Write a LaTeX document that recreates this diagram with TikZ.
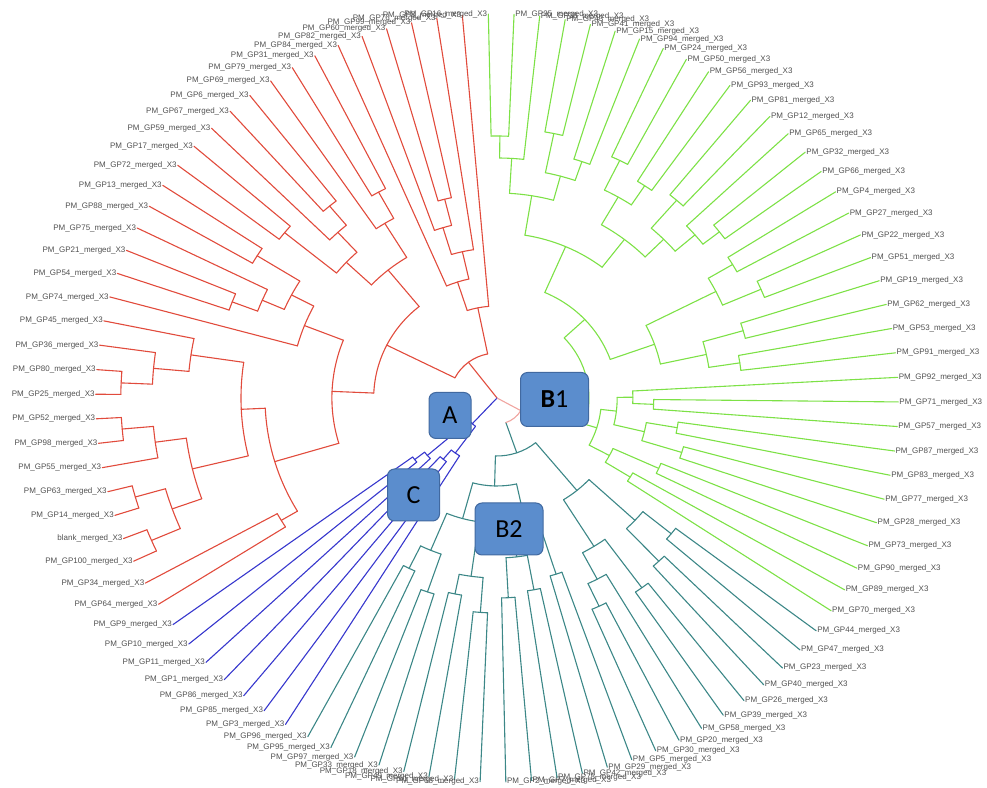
\documentclass[tikz,border=0pt]{standalone}
\usepackage{fontspec}
\setmainfont{Liberation Sans}
\newfontfamily\boxfont{Carlito}
\definecolor{redc}{RGB}{225,75,60}
\definecolor{grnc}{RGB}{125,225,70}
\definecolor{tealc}{RGB}{60,135,135}
\definecolor{bluc}{RGB}{55,55,205}
\definecolor{pinkc}{RGB}{240,165,160}
\definecolor{boxfill}{RGB}{91,141,205}
\definecolor{boxline}{RGB}{65,105,160}
\definecolor{lblgray}{RGB}{80,80,80}
\begin{document}
\begin{tikzpicture}[x=1pt, y=1pt, declare function={ang(\i)=326.4+3.673*\i;}]
	\tikzset{br/.style={line width=1.1pt, line cap=round},
		lbl/.style={font=\fontsize{8}{9}\selectfont, text=lblgray, inner sep=1pt},
		box/.style={draw=boxline, fill=boxfill, line width=1pt, rounded corners=7pt,
			font=\boxfont\fontsize{26}{30}\selectfont, text=black}};

	\useasboundingbox (0,0) rectangle (987,787);

	\begin{scope}[shift={(497,389)}, xscale=1.045]
		% red clade
		\foreach \rr/\p/\q/\rp in {205/37/38/178, 178/37.5/39/150, 150/36/38.25/122, 122/37.125/40/92,
			92/35/38.5625/45, 235/41/42/205, 205/41.5/43/165, 250/44/45/225, 225/44.5/46/198,
			262/47/48/198, 198/45.25/47.5/165, 165/42.25/46.375/118, 270/49/50/222, 271/52/53/245,
			245/51/52.5/222, 222/49.5/51.75/198, 198/50.625/54/158, 360/57/58/330, 330/56/57.5/296,
			296/55/56.75/245, 360/59/60/330, 330/59.5/61/300, 360/62/63/330, 360/64/65/330,
			330/62.5/64.5/300, 300/60.25/63.5/245, 245/55.875/61.875/222, 240/66/67/222,
			222/58.875/66.5/158, 158/52.3125/62.6875/118, 118/44.3125/57.5/45, 45/36.78125/50.90625/0}{
			\pgfmathsetmacro\aa{ang(\p)}
			\pgfmathsetmacro\ab{ang(\q)}
			\pgfmathsetmacro\am{ang((\p+\q)/2)}
			\draw[br, redc] (\aa:\rr) arc[start angle=\aa, end angle=\ab, radius=\rr];
			\draw[br, redc] (\am:\rr) -- (\am:\rp);
		}
		\foreach \i/\nm/\rr in {35/PM\_GP8/92, 36/PM\_GP76/150, 37/PM\_GP99/205, 38/PM\_GP60/205,
			39/PM\_GP82/178, 40/PM\_GP84/122, 41/PM\_GP31/235, 42/PM\_GP79/235, 43/PM\_GP69/205,
			44/PM\_GP6/250, 45/PM\_GP67/250, 46/PM\_GP59/225, 47/PM\_GP17/262, 48/PM\_GP72/262,
			49/PM\_GP13/270, 50/PM\_GP88/270, 51/PM\_GP75/245, 52/PM\_GP21/271, 53/PM\_GP54/271,
			54/PM\_GP74/198, 55/PM\_GP45/296, 56/PM\_GP36/330, 57/PM\_GP80/360, 58/PM\_GP25/360,
			59/PM\_GP52/360, 60/PM\_GP98/360, 61/PM\_GP55/330, 62/PM\_GP63/360, 63/PM\_GP14/360,
			64/blank/360, 65/PM\_GP100/360, 66/PM\_GP34/240, 67/PM\_GP64/240}{
			\pgfmathsetmacro\angl{ang(\i)}
			\pgfmathsetmacro\cosv{cos(\angl)}
			\ifdim\cosv pt<0pt \def\anc{east}\else\def\anc{west}\fi
			\node[lbl, anchor=\anc] (L\i) at (\angl:384) {\nm\_merged\_X3};
			\draw[br, redc] (\angl:\rr) -- (L\i.\anc);
		}

		% blue clade
		\foreach \rr/\p/\q/\rp in {100/68/69/88, 88/68.5/70/35, 95/72/73/80, 80/71/72.5/68,
			68/71.75/74/35, 35/69.25/72.875/0}{
			\pgfmathsetmacro\aa{ang(\p)}
			\pgfmathsetmacro\ab{ang(\q)}
			\pgfmathsetmacro\am{ang((\p+\q)/2)}
			\draw[br, bluc] (\aa:\rr) arc[start angle=\aa, end angle=\ab, radius=\rr];
			\draw[br, bluc] (\am:\rr) -- (\am:\rp);
		}
		\foreach \i/\nm/\rr in {68/PM\_GP9/100, 69/PM\_GP10/100, 70/PM\_GP11/88, 71/PM\_GP1/80,
			72/PM\_GP86/95, 73/PM\_GP85/95, 74/PM\_GP3/68}{
			\pgfmathsetmacro\angl{ang(\i)}
			\node[lbl, anchor=east] (L\i) at (\angl:384) {\nm\_merged\_X3};
			\draw[br, bluc] (\angl:\rr) -- (L\i.east);
		}

		% teal clade (B2)
		\foreach \rr/\p/\q/\rp in {190/75/76/165, 205/77/78/165, 165/75.5/77.5/125, 200/79/80/180,
			215/81/82/180, 180/79.5/81.5/125, 125/76.5/80.5/88, 200/83/84/160, 195/85/86/160,
			160/83.5/85.5/130, 185/87/88/130, 130/84.5/87.5/88, 88/78.5/86/58, 230/89/90/205,
			205/89.5/91/175, 235/92/93/175, 175/90.25/92.5/120, 225/94/95/180, 215/96/97/180,
			180/94.5/96.5/120, 120/91.375/95.5/58, 58/82.25/93.4375/26}{
			\pgfmathsetmacro\aa{ang(\p)}
			\pgfmathsetmacro\ab{ang(\q)}
			\pgfmathsetmacro\am{ang((\p+\q)/2)}
			\draw[br, tealc] (\aa:\rr) arc[start angle=\aa, end angle=\ab, radius=\rr];
			\draw[br, tealc] (\am:\rr) -- (\am:\rp);
		}
		\foreach \i/\nm/\rr in {75/PM\_GP96/190, 76/PM\_GP95/190, 77/PM\_GP97/205, 78/PM\_GP33/205,
			79/PM\_GP18/200, 80/PM\_GP49/200, 81/PM\_GP61/215, 82/PM\_GP68/215, 83/PM\_GP2/200,
			84/PM\_GP7/200, 85/PM\_GP78/195, 86/PM\_GP42/195, 87/PM\_GP29/185, 88/PM\_GP5/185,
			89/PM\_GP30/230, 90/PM\_GP20/230, 91/PM\_GP58/205, 92/PM\_GP39/235, 93/PM\_GP26/235,
			94/PM\_GP40/225, 95/PM\_GP23/225, 96/PM\_GP47/215, 97/PM\_GP44/215}{
			\pgfmathsetmacro\angl{ang(\i)}
			\pgfmathsetmacro\cosv{cos(\angl)}
			\ifdim\cosv pt<0pt \def\anc{east}\else\def\anc{west}\fi
			\node[lbl, anchor=\anc] (L\i) at (\angl:384) {\nm\_merged\_X3};
			\draw[br, tealc] (\angl:\rr) -- (L\i.\anc);
		}

		% green clade (B1)
		\foreach \rr/\p/\q/\rp in {150/98/99/122, 170/100/101/122, 122/98.5/100.5/100,
			185/102/103/145, 175/104/105/145, 145/102.5/104.5/115, 150/106/107/130,
			130/106.5/108/115, 115/103.5/107.25/100, 100/99.5/105.375/88, 235/109/110/205,
			245/111/112/205, 205/109.5/111.5/160, 275/113/114/235, 262/115/116/235,
			235/113.5/115.5/160, 160/110.5/114.5/115, 270/117/118/250, 250/117.5/119/225,
			262/120/121/225, 225/118.25/120.5/200, 255/122/123/232, 265/124/125/232,
			232/122.5/124.5/200, 200/119.375/123.5/165, 250/126/127/230, 270/128/129/230,
			230/126.5/128.5/205, 262/131/132/240, 240/130/131.5/205, 205/127.5/130.75/165,
			165/121.4375/129.125/115, 115/112.5/125.28125/88, 88/102.4375/118.890625/26}{
			\pgfmathsetmacro\aa{ang(\p)}
			\pgfmathsetmacro\ab{ang(\q)}
			\pgfmathsetmacro\am{ang((\p+\q)/2)}
			\draw[br, grnc] (\aa:\rr) arc[start angle=\aa, end angle=\ab, radius=\rr];
			\draw[br, grnc] (\am:\rr) -- (\am:\rp);
		}
		\foreach \i/\nm/\rr in {98/PM\_GP70/150, 99/PM\_GP89/150, 100/PM\_GP90/170, 101/PM\_GP73/170,
			102/PM\_GP28/185, 103/PM\_GP77/185, 104/PM\_GP83/175, 105/PM\_GP87/175, 106/PM\_GP57/150,
			107/PM\_GP71/150, 108/PM\_GP92/130, 109/PM\_GP91/235, 110/PM\_GP53/235, 111/PM\_GP62/245,
			112/PM\_GP19/245, 113/PM\_GP51/275, 114/PM\_GP22/275, 115/PM\_GP27/262, 116/PM\_GP4/262,
			117/PM\_GP66/270, 118/PM\_GP32/270, 119/PM\_GP65/250, 120/PM\_GP12/262, 121/PM\_GP81/262,
			122/PM\_GP93/255, 123/PM\_GP56/255, 124/PM\_GP50/265, 125/PM\_GP24/265, 126/PM\_GP94/250,
			127/PM\_GP15/250, 128/PM\_GP41/270, 129/PM\_GP43/270, 130/PM\_GP38/240, 131/PM\_GP35/262,
			132/PM\_GP16/262}{
			\pgfmathsetmacro\angl{ang(\i)}
			\pgfmathsetmacro\cosv{cos(\angl)}
			\ifdim\cosv pt<0pt \def\anc{east}\else\def\anc{west}\fi
			\node[lbl, anchor=\anc] (L\i) at (\angl:384) {\nm\_merged\_X3};
			\draw[br, grnc] (\angl:\rr) -- (L\i.\anc);
		}

		% link of B1 and B2 to the root
		\pgfmathsetmacro\aa{ang(87.84375)}
		\pgfmathsetmacro\ab{ang(110.6640625)}
		\pgfmathsetmacro\am{ang(99.25390625)}
		\draw[br, pinkc] (\aa:26) arc[start angle=\aa, end angle=\ab, radius=26];
		\draw[br, pinkc] (\am:26) -- (0,0);
	\end{scope}

	\node[box, minimum width=42pt, minimum height=46pt] (A) at (450,371.5) {A};
	\node[box, minimum width=68pt, minimum height=54pt] (B1) at (554.5,387.5) {\textbf{B}1};
	\node[box, minimum width=52pt, minimum height=52pt] (C) at (413.5,292) {C};
	\node[box, minimum width=68pt, minimum height=52pt] (B2) at (509,258) {B2};
\end{tikzpicture}
\end{document}
